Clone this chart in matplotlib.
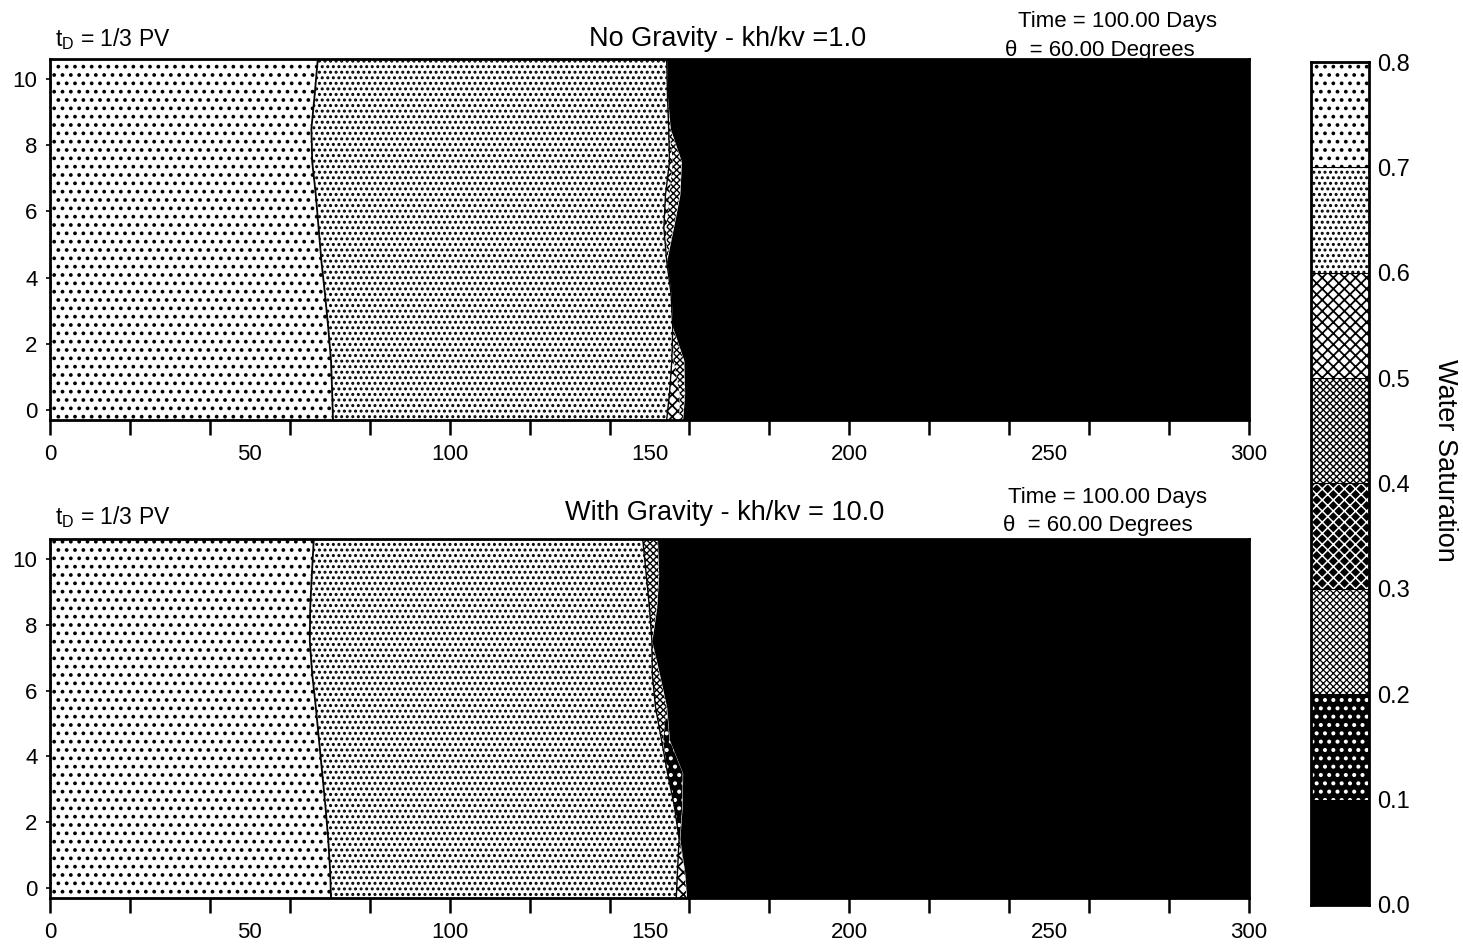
import numpy as np
import matplotlib
matplotlib.use('Agg')
import matplotlib.pyplot as plt
from matplotlib.ticker import FixedLocator, NullFormatter

plt.rcParams['font.family'] = ['Liberation Sans', 'DejaVu Sans']
plt.rcParams['mathtext.default'] = 'regular'
plt.rcParams['hatch.linewidth'] = 1.4

# water saturation contour levels and the y rows where fronts are read (m)
levels = [0.0, 0.1, 0.2, 0.3, 0.4, 0.5, 0.6, 0.7, 0.8]
y_rows = [-0.3, 0.5, 1.5, 2.5, 3.5, 4.5, 5.5, 6.5, 7.5, 8.5, 9.5, 10.6]

# x position (ft) of each saturation contour, no gravity case
ng_sw70 = [70.8, 70.6, 70.3, 69.6, 68.8, 67.9, 67.2, 66.5, 65.6, 65.4, 66.2, 67.0]
ng_sw60 = [154.3, 155.0, 155.6, 155.8, 155.4, 154.3, 153.6, 154.0, 155.0, 154.8, 154.5, 154.3]
ng_sw50 = [157.5, 157.5, 156.0, 155.8, 155.4, 154.3, 154.2, 155.0, 155.8, 154.8, 154.5, 154.3]
ng_sw40 = [158.3, 158.8, 158.6, 155.8, 155.4, 154.3, 156.0, 157.6, 158.0, 155.2, 154.5, 154.3]
ng_sw30 = [158.3, 158.8, 158.6, 155.8, 155.4, 154.3, 156.0, 157.6, 158.0, 155.2, 154.5, 154.3]
ng_sw20 = [158.3, 158.8, 158.6, 155.8, 155.4, 154.3, 156.0, 157.6, 158.0, 155.2, 154.5, 154.3]
ng_sw10 = [158.3, 158.8, 158.6, 155.8, 155.4, 154.3, 156.0, 157.6, 158.0, 155.2, 154.5, 154.3]

# with gravity case
wg_sw70 = [70.3, 70.1, 69.6, 68.9, 68.1, 67.3, 66.5, 65.6, 65.0, 65.1, 65.5, 66.0]
wg_sw60 = [156.7, 157.0, 157.4, 156.2, 154.5, 153.0, 151.5, 150.7, 150.6, 150.0, 149.2, 148.3]
wg_sw50 = [159.3, 158.8, 157.4, 156.2, 154.5, 153.0, 151.5, 150.7, 150.6, 150.0, 149.2, 148.3]
wg_sw40 = [159.3, 158.8, 157.4, 156.2, 154.5, 153.4, 154.3, 152.5, 150.6, 151.8, 152.3, 152.0]
wg_sw30 = [159.3, 158.8, 157.4, 156.2, 154.5, 153.4, 154.3, 152.5, 150.6, 151.8, 152.3, 152.0]
wg_sw20 = [159.3, 158.8, 157.4, 156.2, 154.5, 153.4, 154.3, 152.5, 150.6, 151.8, 152.3, 152.0]
wg_sw10 = [159.3, 158.8, 157.6, 158.2, 158.3, 155.0, 154.3, 152.5, 150.6, 151.8, 152.3, 152.0]

x_max = 300.0
time_days = 100.00
theta_deg = 60.00

# fill style of each band, lowest first: (face, hatch colour, hatch, hatch lw)
band_styles = [('black', 'black', None, 1.0),
               ('black', 'white', '..', 1.7),
               ('white', 'black', 'xxxxx', 0.9),
               ('black', 'white', 'xxx', 1.1),
               ('white', 'black', 'xxxxx', 1.0),
               ('white', 'black', 'xxx', 1.3),
               ('white', 'black', '...', 1.4),
               ('white', 'black', '..', 1.5)]


def set_hlw(artist, lw):
    if hasattr(artist, 'set_hatch_linewidth'):
        artist.set_hatch_linewidth(lw)


def draw_panel(ax, fronts):
    # fronts: contours 0.1 ... 0.7; the 0.8 edge is x=0, the 0.0 edge x_max
    ny = len(y_rows)
    edges = [[x_max] * ny] + fronts + [[0.0] * ny]
    for k in range(8):
        face, hc, hatch, hlw = band_styles[k]
        with plt.rc_context({'hatch.linewidth': hlw}):
            pc = ax.fill_betweenx(y_rows, edges[k + 1], edges[k], facecolor=face,
                                  edgecolor=hc, hatch=hatch, linewidth=0)
            set_hlw(pc, hlw)
    ax.plot(fronts[6], y_rows, color='black', lw=1.3)
    ax.plot(fronts[5], y_rows, color='black', lw=1.0)
    ax.set_xlim(0, x_max)
    ax.set_ylim(-0.3, 10.6)
    ax.xaxis.remove_overlapping_locs = False
    ax.xaxis.set_major_locator(FixedLocator(np.arange(0, 301, 20)))
    ax.xaxis.set_major_formatter(NullFormatter())
    ax.xaxis.set_minor_locator(FixedLocator(np.arange(0, 301, 50)))
    ax.xaxis.set_minor_formatter(plt.FuncFormatter(lambda v, p: '%d' % v))
    ax.tick_params(axis='x', which='major', direction='out', length=11, width=1.8)
    ax.tick_params(axis='x', which='minor', length=0, labelsize=16, pad=17)
    ax.set_yticks([0, 2, 4, 6, 8, 10])
    ax.tick_params(axis='y', direction='out', length=3, width=1.2, labelsize=16, pad=6)
    for s in ax.spines.values():
        s.set_linewidth(2)


fig = plt.figure(figsize=(14.63, 9.47), dpi=100)
ax1 = fig.add_axes([0.0342, 0.5565, 0.8195, 0.3812])
ax2 = fig.add_axes([0.0342, 0.0517, 0.8195, 0.3791])
cax = fig.add_axes([0.8961, 0.0444, 0.0396, 0.8901])

draw_panel(ax1, [ng_sw10, ng_sw20, ng_sw30, ng_sw40, ng_sw50, ng_sw60, ng_sw70])
draw_panel(ax2, [wg_sw10, wg_sw20, wg_sw30, wg_sw40, wg_sw50, wg_sw60, wg_sw70])

# text above each panel
fig.text(0.0376, 0.951, r'$t_D$ = 1/3 PV', fontsize=16.5, va='baseline')
fig.text(0.4976, 0.951, 'No Gravity - kh/kv =1.0', fontsize=19.5, ha='center', va='baseline')
fig.text(0.696, 0.9715, 'Time = %.2f Days' % time_days, fontsize=16, va='baseline')
fig.text(0.687, 0.941, 'θ  = %.2f Degrees' % theta_deg, fontsize=16, va='baseline')

fig.text(0.0376, 0.4467, r'$t_D$ = 1/3 PV', fontsize=16.5, va='baseline')
fig.text(0.4956, 0.451, 'With Gravity - kh/kv = 10.0', fontsize=19.5, ha='center', va='baseline')
fig.text(0.689, 0.469, 'Time = %.2f Days' % time_days, fontsize=16, va='baseline')
fig.text(0.6856, 0.439, 'θ  = %.2f Degrees' % theta_deg, fontsize=16, va='baseline')

# colour bar built from the same band styles
for k in range(8):
    face, hc, hatch, hlw = band_styles[k]
    with plt.rc_context({'hatch.linewidth': hlw}):
        bars = cax.bar(0.5, levels[k + 1] - levels[k], bottom=levels[k], width=1.0,
                       facecolor=face, edgecolor=hc, hatch=hatch, linewidth=0)
        for b in bars:
            set_hlw(b, hlw)
for lv in levels[1:-1]:
    cax.axhline(lv, color='black', lw=0.8)
cax.set_xlim(0, 1)
cax.set_ylim(0, 0.8)
cax.set_xticks([])
cax.yaxis.tick_right()
cax.set_yticks(levels)
cax.set_yticklabels(['%.1f' % v for v in levels])
cax.tick_params(axis='y', length=0, labelsize=17, pad=6)
for s in cax.spines.values():
    s.set_linewidth(2)
fig.text(0.9877, 0.514, 'Water Saturation', fontsize=19.5, rotation=270,
         ha='center', va='center')

fig.savefig('out.png', dpi=100)
